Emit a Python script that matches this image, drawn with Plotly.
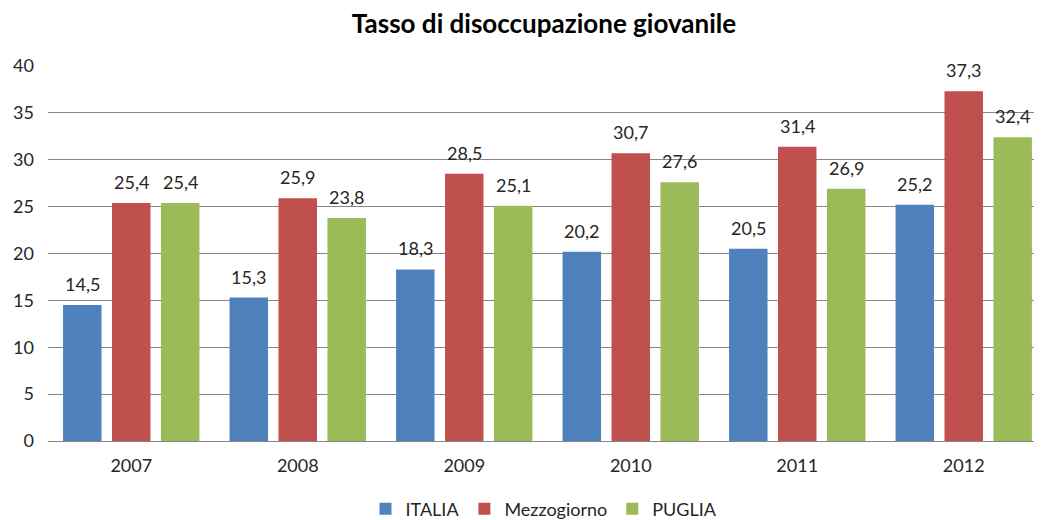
import plotly.graph_objects as go

years = ["2007", "2008", "2009", "2010", "2011", "2012"]
italia = [14.5, 15.3, 18.3, 20.2, 20.5, 25.2]
mezzogiorno = [25.4, 25.9, 28.5, 30.7, 31.4, 37.3]
puglia = [25.4, 23.8, 25.1, 27.6, 26.9, 32.4]

series = [("ITALIA", italia, "#4F81BD"), ("Mezzogiorno", mezzogiorno, "#C0504D"), ("PUGLIA", puglia, "#9BBB59")]

# page body has an 8px default margin, so the figure is sized/placed to compensate
W, H = 1034, 512
L, R, T, B = 40, 2, 58, 79
BARGAP = 0.118
GROUPGAP = 0.214
n_cat = len(years)
x_max = n_cat - 0.5 - 0.042 * n_cat / 6  # plot area is slightly cropped on the right, as in the reference
cat_px = (W - L - R) / (x_max + 0.5)
slot_px = cat_px * (1 - BARGAP) / len(series)

fig = go.Figure()
annotations = []
for i, (name, vals, col) in enumerate(series):
    fig.add_trace(go.Bar(
        x=years, y=vals, name=name, marker_color=col,
        marker_line_width=0,
    ))
    for j, v in enumerate(vals):
        annotations.append(dict(
            x=j, y=v, xref="x", yref="y", text=f"{v:.1f}".replace(".", ","),
            showarrow=False, yanchor="bottom", yshift=8,
            xshift=(i - (len(series) - 1) / 2) * slot_px,
            font=dict(size=18, color="#262626", family="Lato"),
        ))

fig.update_layout(
    width=W, height=H,
    barmode="group", bargap=BARGAP, bargroupgap=GROUPGAP,
    plot_bgcolor="white", paper_bgcolor="white",
    margin=dict(l=L, r=R, t=T, b=B, autoexpand=False),
    font=dict(family="Lato", size=18, color="#262626"),
    title=dict(text="<b>Tasso di disoccupazione giovanile</b>", x=0.5, xanchor="center",
               xref="paper", yref="container",
               y=1 - 16 / H, yanchor="middle", font=dict(size=26, color="black")),
    yaxis=dict(range=[0, 40], dtick=5, showgrid=True, gridcolor="#868686", gridwidth=1,
               zeroline=False, showline=False, ticks="", tickfont=dict(size=18),
               ticklabelstandoff=13, automargin=False),
    xaxis=dict(type="category", range=[-0.5, x_max], showline=True,
               linecolor="#868686", linewidth=1, ticks="",
               tickfont=dict(size=18), ticklabelstandoff=8, automargin=False),
    legend=dict(orientation="h", x=0.5, xanchor="center", xref="paper",
                yref="container", y=1 - 501 / H, yanchor="middle",
                font=dict(size=18), itemwidth=30, traceorder="normal"),
    annotations=annotations,
    showlegend=True,
)
fig.write_html("out.html")
